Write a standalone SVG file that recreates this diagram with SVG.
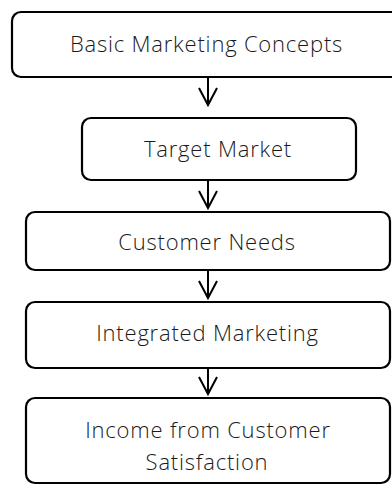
<svg xmlns="http://www.w3.org/2000/svg" width="392" height="485" viewBox="0 0 392 485">
<style>
.box{fill:#fff;stroke:#000;stroke-width:2.2}
.lbl{font-family:"Open Sans","Liberation Sans",sans-serif;font-size:22px;letter-spacing:0.8px;fill:#1a1a1a;text-anchor:middle;font-weight:300}
.con{stroke:#000;stroke-width:2;fill:none}
</style>
<rect width="392" height="485" fill="#fff"/>
<g id="connectors">
<path class="con" d="M208,77 V104"/>
<path class="con" d="M208,180 V207"/>
<path class="con" d="M208,270 V297"/>
<path class="con" d="M208,368 V393"/>
<path d="M199,88 L208,105 L217,88" class="con"/>
<path d="M199,191 L208,208 L217,191" class="con"/>
<path d="M199,281 L208,298 L217,281" class="con"/>
<path d="M199,377 L208,394 L217,377" class="con"/>
</g>
<g id="n1"><rect class="box" x="12" y="12" width="400" height="65" rx="9"/><text class="lbl" x="206.5" y="52">Basic Marketing Concepts</text></g>
<g id="n2"><rect class="box" x="82" y="118" width="274" height="62" rx="9"/><text class="lbl" x="218" y="157">Target Market</text></g>
<g id="n3"><rect class="box" x="26" y="212" width="364" height="58" rx="9"/><text class="lbl" x="207" y="250">Customer Needs</text></g>
<g id="n4"><rect class="box" x="26" y="302" width="364" height="66" rx="9"/><text class="lbl" x="207.5" y="341">Integrated Marketing</text></g>
<g id="n5"><rect class="box" x="26" y="398" width="364" height="85" rx="9"/><text class="lbl" x="208" y="438">Income from Customer<tspan x="207" y="470">Satisfaction</tspan></text></g>
</svg>
